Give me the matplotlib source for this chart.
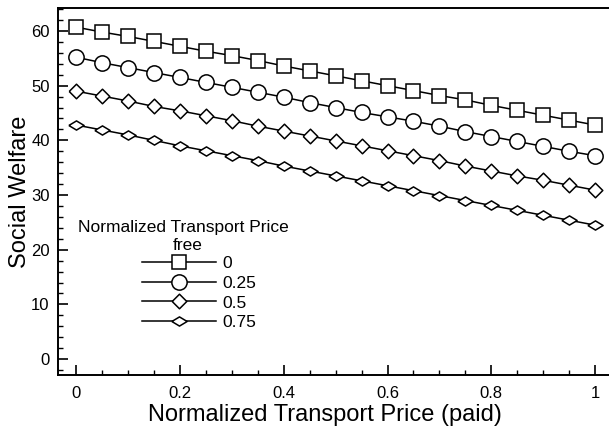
import matplotlib
matplotlib.use("Agg")
import matplotlib.pyplot as plt
from matplotlib.ticker import MultipleLocator

plt.rcParams['font.family'] = ['Liberation Sans', 'DejaVu Sans']

# paid price on the x axis
paid = [0.0, 0.05, 0.1, 0.15, 0.2, 0.25, 0.3, 0.35, 0.4, 0.45, 0.5,
        0.55, 0.6, 0.65, 0.7, 0.75, 0.8, 0.85, 0.9, 0.95, 1.0]

# social welfare, one list per free-transport price
sw_free_0 = [60.7, 59.8, 59.0, 58.1, 57.2, 56.3, 55.5, 54.6, 53.6, 52.7, 51.8,
             50.9, 50.0, 49.1, 48.2, 47.4, 46.4, 45.5, 44.6, 43.7, 42.8]
sw_free_025 = [55.2, 54.2, 53.3, 52.4, 51.5, 50.6, 49.7, 48.8, 47.9, 46.9, 46.0,
               45.1, 44.3, 43.5, 42.6, 41.6, 40.7, 39.8, 38.9, 38.0, 37.2]
sw_free_05 = [49.0, 48.1, 47.2, 46.2, 45.4, 44.5, 43.6, 42.6, 41.7, 40.8, 39.9,
              39.0, 38.1, 37.2, 36.3, 35.3, 34.4, 33.5, 32.7, 31.8, 30.9]
sw_free_075 = [42.8, 41.9, 41.0, 40.0, 39.0, 38.1, 37.2, 36.3, 35.3, 34.4, 33.5,
               32.6, 31.7, 30.8, 29.9, 29.0, 28.1, 27.2, 26.3, 25.4, 24.5]

labels = ['0', '0.25', '0.5', '0.75']
series = [sw_free_0, sw_free_025, sw_free_05, sw_free_075]

big_diamond = [(-1, 0), (0, 1), (1, 0), (0, -1), (-1, 0)]
flat_diamond = [(-1, 0), (0, 0.6), (1, 0), (0, -0.6), (-1, 0)]
markers = ['s', 'o', big_diamond, flat_diamond]
sizes = [9.5, 11, 10.5, 11]

fig = plt.figure(figsize=(6.09, 4.33), dpi=100)
ax = fig.add_axes([0.0952, 0.134, 0.905, 0.8475])

handles = []
for vals, lab, mk, ms in zip(series, labels, markers, sizes):
    h, = ax.plot(paid, vals, color='black', lw=1.1, marker=mk, ms=ms,
                 mfc='white', mec='black', mew=1.1, label=lab)
    handles.append(h)

ax.set_xlim(-0.035, 1.027)
ax.set_ylim(-2.9, 64.2)

ax.xaxis.set_major_locator(MultipleLocator(0.2))
ax.xaxis.set_minor_locator(MultipleLocator(0.05))
ax.yaxis.set_major_locator(MultipleLocator(10))
ax.yaxis.set_minor_locator(MultipleLocator(2))
ax.set_xticks([0, 0.2, 0.4, 0.6, 0.8, 1.0])
ax.set_xticklabels(['0', '0.2', '0.4', '0.6', '0.8', '1'])

ax.tick_params(which='major', direction='in', length=7, width=1.2,
               labelsize=12, pad=6)
ax.tick_params(which='minor', direction='in', length=3.5, width=1.0)
ax.tick_params(axis='x', which='major', pad=8)

for s in ['left', 'bottom', 'top']:
    ax.spines[s].set_linewidth(1.4)
ax.spines['right'].set_visible(False)

ax.set_xlabel('Normalized Transport Price (paid)', fontsize=17, labelpad=2, x=0.485)
ax.set_ylabel('Social Welfare', fontsize=17, labelpad=0)

# legend title drawn as two centred lines
ax.text(0.228, 0.403, 'Normalized Transport Price', transform=ax.transAxes,
        ha='center', va='center', fontsize=12.5)
ax.text(0.236, 0.354, 'free', transform=ax.transAxes,
        ha='center', va='center', fontsize=12.5)

ax.legend(handles=handles, loc='upper left', bbox_to_anchor=(0.152, 0.324),
          frameon=False, fontsize=12.5, handlelength=4.3, handletextpad=0.35,
          labelspacing=0.26, borderpad=0, borderaxespad=0)

fig.savefig('out.png', dpi=100, facecolor='white')
